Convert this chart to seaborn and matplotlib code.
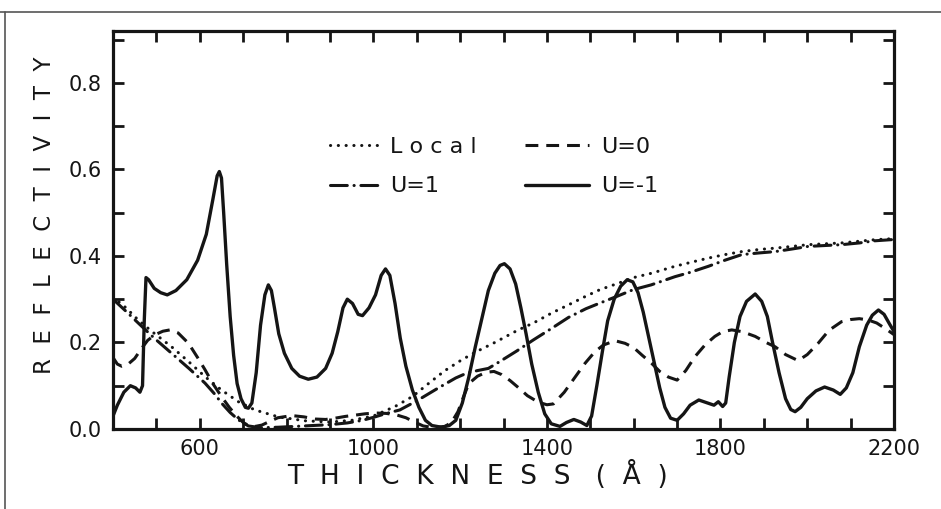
import numpy as np
import pandas as pd
import matplotlib
matplotlib.use("Agg")
import matplotlib.pyplot as plt
import seaborn as sns
from matplotlib.lines import Line2D
from matplotlib.ticker import MultipleLocator, FixedLocator, FixedFormatter

# ---------------- data ----------------
um1_x = [400, 410, 425, 440, 452, 462, 468, 472, 476, 482, 495, 510, 525, 545, 570, 595, 615, 630,
         640, 645, 650, 655, 662, 670, 678, 686, 695, 705, 712, 720, 730, 740, 750, 758, 765, 772,
         782, 795, 812, 830, 850, 870, 890, 905, 918, 930, 940, 952, 965, 975, 990, 1005, 1018,
         1028, 1038, 1050, 1062, 1075, 1090, 1105, 1120, 1135, 1157, 1175, 1190, 1205, 1220, 1235,
         1250, 1265, 1280, 1292, 1302, 1315, 1328, 1340, 1352, 1365, 1380, 1395, 1410, 1430, 1445,
         1462, 1478, 1492, 1503, 1515, 1528, 1540, 1555, 1570, 1585, 1598, 1610, 1622, 1635, 1648,
         1660, 1672, 1685, 1700, 1715, 1730, 1750, 1770, 1785, 1795, 1805, 1812, 1820, 1832, 1845,
         1860, 1880, 1895, 1908, 1920, 1935, 1950, 1962, 1972, 1985, 2000, 2020, 2040, 2060, 2076,
         2090, 2105, 2120, 2137, 2150, 2164, 2177, 2190, 2200]
um1_y = [0.03, 0.055, 0.085, 0.10, 0.095, 0.085, 0.10, 0.25, 0.35, 0.345, 0.325, 0.315, 0.31, 0.32,
         0.345, 0.39, 0.45, 0.53, 0.585, 0.595, 0.58, 0.50, 0.38, 0.26, 0.17, 0.105, 0.07, 0.05,
         0.048, 0.06, 0.13, 0.24, 0.31, 0.333, 0.32, 0.28, 0.22, 0.175, 0.14, 0.122, 0.115, 0.12,
         0.14, 0.175, 0.225, 0.28, 0.30, 0.29, 0.265, 0.262, 0.28, 0.31, 0.355, 0.37, 0.355, 0.29,
         0.21, 0.145, 0.09, 0.05, 0.02, 0.008, 0.004, 0.008, 0.02, 0.06, 0.12, 0.19, 0.255, 0.32,
         0.36, 0.378, 0.382, 0.37, 0.335, 0.28, 0.22, 0.15, 0.085, 0.035, 0.012, 0.006, 0.015,
         0.022, 0.016, 0.008, 0.03, 0.10, 0.18, 0.25, 0.30, 0.33, 0.345, 0.34, 0.315, 0.27, 0.21,
         0.15, 0.095, 0.05, 0.025, 0.02, 0.035, 0.055, 0.067, 0.06, 0.055, 0.063, 0.052, 0.06,
         0.12, 0.20, 0.26, 0.295, 0.312, 0.295, 0.26, 0.20, 0.13, 0.07, 0.045, 0.04, 0.05, 0.07,
         0.088, 0.097, 0.09, 0.08, 0.095, 0.13, 0.19, 0.24, 0.263, 0.275, 0.265, 0.242, 0.225]

u0_x = [400, 410, 420, 435, 450, 465, 480, 497, 515, 531, 550, 574, 595, 612, 630, 650, 668, 685,
        700, 712, 728, 743, 760, 780, 812, 840, 866, 890, 912, 935, 958, 980, 1004, 1030, 1055,
        1075, 1095, 1115, 1140, 1165, 1180, 1195, 1208, 1220, 1240, 1260, 1278, 1295, 1315, 1335,
        1355, 1380, 1400, 1415, 1440, 1465, 1488, 1510, 1530, 1557, 1580, 1600, 1620, 1641, 1660,
        1680, 1700, 1720, 1741, 1765, 1787, 1805, 1826, 1850, 1880, 1905, 1926, 1950, 1979, 2000,
        2025, 2050, 2079, 2100, 2120, 2140, 2160, 2180, 2200]
u0_y = [0.165, 0.15, 0.145, 0.15, 0.163, 0.185, 0.205, 0.218, 0.226, 0.229, 0.222, 0.198, 0.165,
        0.137, 0.105, 0.075, 0.05, 0.03, 0.015, 0.008, 0.006, 0.009, 0.017, 0.026, 0.031, 0.028,
        0.023, 0.022, 0.025, 0.029, 0.032, 0.035, 0.037, 0.036, 0.032, 0.026, 0.016, 0.007, 0.003,
        0.006, 0.015, 0.04, 0.075, 0.105, 0.122, 0.131, 0.133, 0.126, 0.112, 0.095, 0.077, 0.062,
        0.056, 0.058, 0.085, 0.12, 0.152, 0.178, 0.194, 0.204, 0.198, 0.188, 0.17, 0.152, 0.133,
        0.12, 0.113, 0.135, 0.167, 0.195, 0.214, 0.225, 0.229, 0.225, 0.214, 0.2, 0.19, 0.172,
        0.158, 0.172, 0.198, 0.228, 0.248, 0.253, 0.255, 0.252, 0.245, 0.232, 0.218]

local_x = [400, 430, 458, 490, 535, 575, 612, 650, 689, 727, 781, 842, 900, 950, 1000, 1050, 1090,
           1127, 1165, 1204, 1240, 1280, 1334, 1369, 1411, 1450, 1488, 1522, 1565, 1600, 1641,
           1695, 1735, 1772, 1810, 1849, 1890, 1926, 1965, 2002, 2040, 2079, 2120, 2156, 2200]
local_y = [0.305, 0.28, 0.252, 0.225, 0.19, 0.155, 0.121, 0.09, 0.063, 0.044, 0.028, 0.019, 0.016,
           0.02, 0.03, 0.052, 0.075, 0.105, 0.135, 0.16, 0.18, 0.2, 0.229, 0.245, 0.268, 0.287,
           0.306, 0.322, 0.337, 0.35, 0.36, 0.376, 0.386, 0.395, 0.403, 0.41, 0.415, 0.418, 0.422,
           0.426, 0.428, 0.43, 0.434, 0.4375, 0.44]

u1_x = [400, 430, 458, 495, 535, 575, 612, 635, 650, 670, 689, 712, 740, 780, 820, 860, 900, 940,
        975, 1004, 1030, 1061, 1100, 1150, 1190, 1215, 1240, 1265, 1290, 1330, 1369, 1410, 1450,
        1490, 1522, 1560, 1599, 1640, 1695, 1730, 1772, 1810, 1849, 1890, 1926, 1965, 2002, 2040,
        2079, 2120, 2156, 2200]
u1_y = [0.30, 0.272, 0.245, 0.21, 0.175, 0.14, 0.106, 0.08, 0.06, 0.038, 0.021, 0.007, 0.003,
        0.004, 0.006, 0.008, 0.01, 0.014, 0.02, 0.028, 0.036, 0.044, 0.065, 0.095, 0.118, 0.129,
        0.135, 0.14, 0.155, 0.18, 0.206, 0.232, 0.258, 0.278, 0.291, 0.306, 0.322, 0.333, 0.352,
        0.362, 0.376, 0.39, 0.403, 0.407, 0.41, 0.416, 0.422, 0.424, 0.426, 0.43, 0.435, 0.438]

labels = ["L o c a l", "U=0", "U=1", "U=-1"]
x_tick_vals = [600, 1000, 1400, 1800, 2200]
y_tick_vals = [0.0, 0.2, 0.4, 0.6, 0.8]
y_tick_labels = ["0.0", "0.2", "0.4", "0.6", "0.8"]

# ---------------- figure ----------------
sns.set_theme(style="white")
plt.rcParams['font.family'] = ['DejaVu Sans']
ink = "#151515"

fig = plt.figure(figsize=(9.41, 5.09), dpi=100)
fig.patch.set_facecolor("white")
ax = fig.add_axes([0.1201, 0.1572, 0.8300, 0.7820])

lw = 2.2
sns.lineplot(x=local_x, y=local_y, ax=ax, color=ink, lw=lw, sort=False, estimator=None,
             label=labels[0], linestyle=(0, (0.05, 2.5)), dash_capstyle="round")
sns.lineplot(x=u1_x, y=u1_y, ax=ax, color=ink, lw=lw, sort=False, estimator=None,
             label=labels[2], linestyle=(0, (5.5, 2.2, 0.05, 2.2)), dash_capstyle="round")
sns.lineplot(x=u0_x, y=u0_y, ax=ax, color=ink, lw=lw, sort=False, estimator=None,
             label=labels[1], linestyle=(0, (4.2, 2.6)))
sns.lineplot(x=um1_x, y=um1_y, ax=ax, color=ink, lw=lw + 0.2, sort=False, estimator=None,
             label=labels[3], linestyle="-")

lines = ax.get_lines()
h_local, h_u1, h_u0, h_um1 = lines[0], lines[1], lines[2], lines[3]

ax.set_xlim(400, 2200)
ax.set_ylim(0, 0.92)

ax.xaxis.set_major_locator(FixedLocator(x_tick_vals))
ax.xaxis.set_minor_locator(MultipleLocator(100))
ax.yaxis.set_major_locator(FixedLocator(y_tick_vals))
ax.yaxis.set_major_formatter(FixedFormatter(y_tick_labels))
ax.yaxis.set_minor_locator(MultipleLocator(0.1))

ax.tick_params(which="both", direction="in", length=8, width=2, color=ink,
               top=True, right=True, bottom=True, left=True)
ax.tick_params(which="major", labelsize=15, labelcolor=ink, pad=7)
ax.tick_params(axis="y", which="major", pad=8)

for sp in ax.spines.values():
    sp.set_visible(True)
    sp.set_linewidth(2.3)
    sp.set_color(ink)

ax.set_xlabel("T  H  I  C  K  N  E  S  S   (  Å  )", fontsize=19, color=ink)
ax.set_ylabel("R  E  F  L  E  C  T  I  V  I  T  Y", fontsize=16.5, color=ink)
ax.xaxis.set_label_coords(0.467, -0.080)
ax.yaxis.set_label_coords(-0.073, 0.538)

# legend: two columns with different handle lengths, as in the original
leg1 = ax.legend(handles=[h_local, h_u1], labels=[labels[0], labels[2]],
                 frameon=False, loc="upper left", bbox_to_anchor=(0.278, 0.734),
                 borderpad=0, borderaxespad=0, fontsize=16, handlelength=2.25,
                 handletextpad=0.45, labelspacing=0.88)
ax.add_artist(leg1)
leg2 = ax.legend(handles=[h_u0, h_um1], labels=[labels[1], labels[3]],
                 frameon=False, loc="upper left", bbox_to_anchor=(0.527, 0.734),
                 borderpad=0, borderaxespad=0, fontsize=16, handlelength=2.9,
                 handletextpad=0.55, labelspacing=0.88)
for lg in (leg1, leg2):
    for t in lg.get_texts():
        t.set_color(ink)

# scan frame lines of the original page
fig.add_artist(Line2D([0.0, 1.0], [1 - 12 / 509, 1 - 12 / 509], transform=fig.transFigure,
                      color="#555555", lw=1.2))
fig.add_artist(Line2D([5 / 941, 5 / 941], [0.0, 1 - 12 / 509], transform=fig.transFigure,
                      color="#555555", lw=1.2))

fig.savefig("out.png", dpi=100, facecolor="white")
